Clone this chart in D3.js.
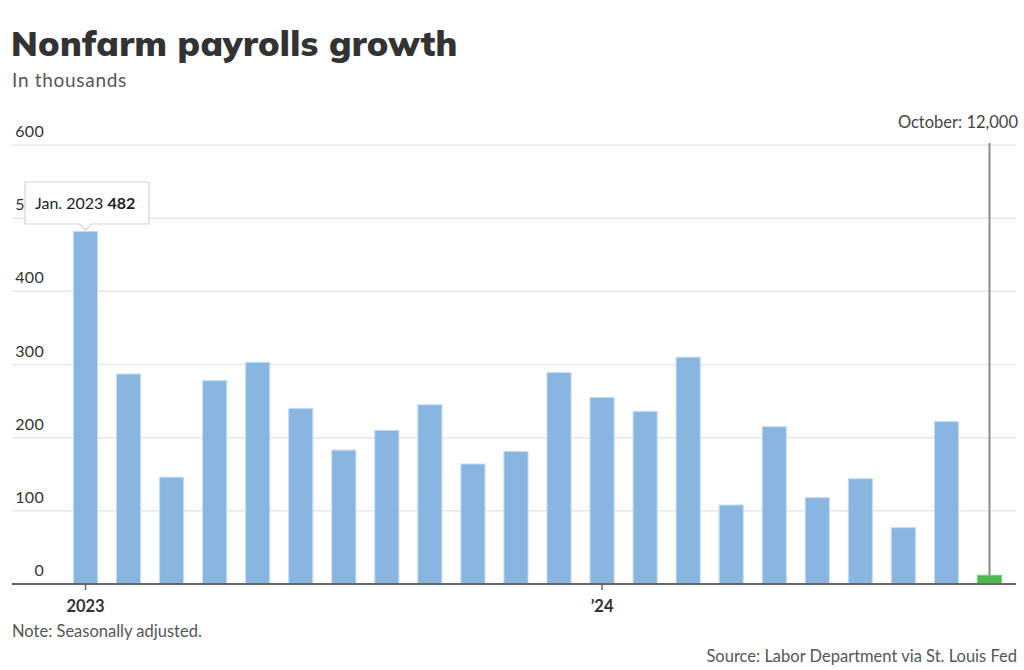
<!DOCTYPE html>
<html>
<head>
<meta charset="utf-8">
<script src="https://cdn.jsdelivr.net/npm/d3@7"></script>
<style>
  html, body { margin: 0; padding: 0; background: #fff; }
  svg { display: block; }
</style>
</head>
<body>
<svg id="chart" width="1024" height="670"></svg>
<script>
// ---- Data ----
const months = [
  "Jan. 2023","Feb. 2023","Mar. 2023","Apr. 2023","May 2023","Jun. 2023",
  "Jul. 2023","Aug. 2023","Sep. 2023","Oct. 2023","Nov. 2023","Dec. 2023",
  "Jan. 2024","Feb. 2024","Mar. 2024","Apr. 2024","May 2024","Jun. 2024",
  "Jul. 2024","Aug. 2024","Sep. 2024","Oct. 2024"
];
const values = [482, 287, 146, 278, 303, 240, 183, 210, 245, 164, 181, 289,
                255, 236, 310, 108, 215, 118, 144, 77, 222, 12];
const yTicks = [0, 100, 200, 300, 400, 500, 600];
const xTickMonths = ["Jan. 2023", "Jan. 2024"];
const xTickLabels = ["2023", "\u201924"];
const highlightMonth = "Oct. 2024";
const tooltipMonth = "Jan. 2023";

// ---- Layout ----
const svg = d3.select("#chart");
const left = 12, right = 1016;
const y = d3.scaleLinear().domain([0, 600]).range([584, 145]);
const x = d3.scaleBand().domain(months).range([64, 1011]).paddingInner(0.44).paddingOuter(0.22);

const font = "Lato, 'Open Sans', sans-serif";

// Title
svg.append("text").attr("x", 11).attr("y", 56)
  .attr("font-family", "Mulish, Lato, sans-serif").attr("font-weight", 900)
  .attr("font-size", 35).attr("letter-spacing", 0.3).attr("fill", "#333").text("Nonfarm payrolls growth");
svg.append("text").attr("x", 12).attr("y", 87)
  .attr("font-family", font).attr("font-size", 19).attr("letter-spacing", 0.7)
  .attr("fill", "#555").text("In thousands");

// Gridlines
svg.append("g").selectAll("line").data(yTicks.filter(d => d > 0)).join("line")
  .attr("x1", left).attr("x2", right)
  .attr("y1", d => y(d)).attr("y2", d => y(d))
  .attr("stroke", "#e6e6e6").attr("stroke-width", 1.5);

// Y labels
svg.append("g").selectAll("text").data(yTicks).join("text")
  .attr("x", 44).attr("y", d => y(d) - 8)
  .attr("text-anchor", "end")
  .attr("font-family", font).attr("font-size", 16).attr("letter-spacing", 0.3).attr("fill", "#333")
  .text(d => d);

// Bars
svg.append("g").selectAll("rect").data(months).join("rect")
  .attr("x", d => x(d)).attr("width", x.bandwidth())
  .attr("y", (d, i) => y(values[i]))
  .attr("height", (d, i) => y(0) - y(values[i]))
  .attr("fill", d => d === highlightMonth ? "#4cb84c" : "#89b6e1")
  .attr("stroke", d => d === highlightMonth ? "#7fd07f" : "#c4ddf3")
  .attr("stroke-width", 1);

// Vertical marker line for highlight
const hx = x(highlightMonth) + x.bandwidth() / 2;
const hv = values[months.indexOf(highlightMonth)];
svg.append("line").attr("x1", hx).attr("x2", hx)
  .attr("y1", 143).attr("y2", y(hv))
  .attr("stroke", "#8a8a8a").attr("stroke-width", 2);
svg.append("text").attr("x", 1018).attr("y", 128).attr("text-anchor", "end")
  .attr("font-family", font).attr("font-size", 16.5).attr("fill", "#444")
  .text("October: " + d3.format(",")(hv * 1000));

// Baseline axis
svg.append("line").attr("x1", left).attr("x2", right)
  .attr("y1", y(0)).attr("y2", y(0))
  .attr("stroke", "#666").attr("stroke-width", 2);

// X ticks
const xt = svg.append("g");
xTickMonths.forEach((m, i) => {
  const cx = x(m) + x.bandwidth() / 2;
  xt.append("line").attr("x1", cx).attr("x2", cx).attr("y1", y(0)).attr("y2", y(0) + 6)
    .attr("stroke", "#666").attr("stroke-width", 1.5);
  xt.append("text").attr("x", cx).attr("y", 612).attr("text-anchor", "middle")
    .attr("font-family", font).attr("font-weight", 700).attr("font-size", 16.5).attr("fill", "#333")
    .text(xTickLabels[i]);
});

// Tooltip
const tx = x(tooltipMonth) + x.bandwidth() / 2;
const tv = values[months.indexOf(tooltipMonth)];
const tip = svg.append("g");
tip.append("path")
  .attr("d", `M25,182 H149 V224 H${tx + 6} L${tx},230 L${tx - 6},224 H25 Z`)
  .attr("fill", "#fff").attr("fill-opacity", 0.95)
  .attr("stroke", "#d4d4d4").attr("stroke-width", 1.2);
const tt = tip.append("text").attr("x", 35).attr("y", 209)
  .attr("font-family", font).attr("font-size", 16).attr("fill", "#222");
tt.append("tspan").text(tooltipMonth + " ");
tt.append("tspan").attr("font-weight", 700).text(tv);

// Footer
svg.append("text").attr("x", 12).attr("y", 637)
  .attr("font-family", font).attr("font-size", 16.5).attr("fill", "#555")
  .text("Note: Seasonally adjusted.");
svg.append("text").attr("x", 1017).attr("y", 662).attr("text-anchor", "end")
  .attr("font-family", font).attr("font-size", 16.5).attr("fill", "#555")
  .text("Source: Labor Department via St. Louis Fed");
</script>
</body>
</html>
